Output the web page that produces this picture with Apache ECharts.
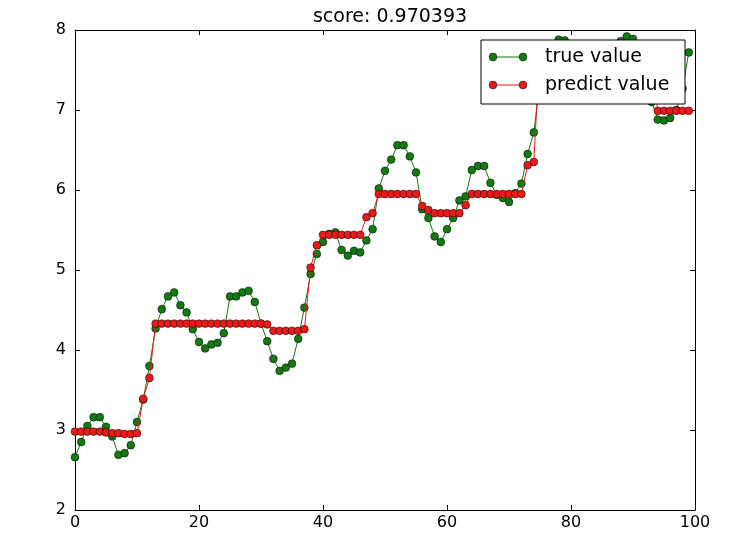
<!DOCTYPE html>
<html>
<head>
<meta charset="utf-8">
<script src="https://cdn.jsdelivr.net/npm/echarts@6/dist/echarts.min.js"></script>
<style>
html,body{margin:0;padding:0;background:#fff;}
#chart{width:740px;height:538px;}
</style>
</head>
<body>
<div id="chart"></div>
<script>
var titleText = 'score: 0.970393';
var seriesNames = ['true value', 'predict value'];
var xTicks = [0, 20, 40, 60, 80, 100];
var yTicks = [2, 3, 4, 5, 6, 7, 8];

var trueValue = [
  2.66, 2.85, 3.05, 3.16, 3.16, 3.04, 2.92, 2.69, 2.71, 2.81,
  3.10, 3.38, 3.80, 4.27, 4.51, 4.67, 4.72, 4.56, 4.47, 4.26,
  4.10, 4.02, 4.07, 4.09, 4.21, 4.67, 4.67, 4.72, 4.74, 4.60,
  4.33, 4.11, 3.89, 3.74, 3.78, 3.83, 4.14, 4.53, 4.95, 5.20,
  5.35, 5.45, 5.47, 5.25, 5.18, 5.24, 5.22, 5.37, 5.51, 6.02,
  6.24, 6.38, 6.56, 6.56, 6.42, 6.22, 5.76, 5.65, 5.42, 5.35,
  5.51, 5.65, 5.87, 5.92, 6.25, 6.30, 6.30, 6.09, 5.94, 5.90,
  5.85, 5.96, 6.08, 6.45, 6.72, 7.35, 7.65, 7.80, 7.88, 7.87,
  7.75, 7.60, 7.50, 7.45, 7.50, 7.60, 7.70, 7.80, 7.86, 7.92,
  7.89, 7.70, 7.40, 7.10, 6.88, 6.87, 6.90, 7.00, 7.27, 7.72
];

var predictValue = [
  2.98, 2.98, 2.98, 2.98, 2.98, 2.97, 2.96, 2.96, 2.95, 2.95,
  2.96, 3.39, 3.65, 4.33, 4.33, 4.33, 4.33, 4.33, 4.33, 4.33,
  4.33, 4.33, 4.33, 4.33, 4.33, 4.33, 4.33, 4.33, 4.33, 4.33,
  4.33, 4.32, 4.24, 4.24, 4.24, 4.24, 4.24, 4.26, 5.03, 5.31,
  5.44, 5.44, 5.44, 5.44, 5.44, 5.44, 5.44, 5.66, 5.71, 5.95,
  5.95, 5.95, 5.95, 5.95, 5.95, 5.95, 5.80, 5.75, 5.71, 5.71,
  5.71, 5.71, 5.71, 5.81, 5.95, 5.95, 5.95, 5.95, 5.95, 5.95,
  5.95, 5.95, 5.95, 6.31, 6.35, 7.82, 7.82, 7.82, 7.82, 7.82,
  7.82, 7.82, 7.82, 7.60, 7.60, 7.60, 7.60, 7.60, 7.60, 7.60,
  7.60, 7.60, 7.60, 7.60, 6.99, 6.99, 6.99, 6.99, 6.99, 6.99
];

var GREEN = '#117a11';
var RED = '#e81b1b';
var FONT = 'DejaVu Sans';

function pairs(arr) { return arr.map(function (v, i) { return [i, v]; }); }

var chart = echarts.init(document.getElementById('chart'), null, {renderer: 'canvas'});

function axisCommon(extra) {
  var base = {
    type: 'value',
    axisLine: {show: true, onZero: false, lineStyle: {color: '#000', width: 1}},
    axisTick: {show: true, inside: true, length: 5, lineStyle: {color: '#000', width: 1}},
    splitLine: {show: false}
  };
  for (var k in extra) base[k] = extra[k];
  return base;
}

var legendY = [57, 85];
var legendColors = [GREEN, RED];
var legendGraphic = [{
  type: 'rect', shape: {x: 481, y: 40, width: 204, height: 64},
  style: {fill: '#fff', stroke: '#000', lineWidth: 1}, z: 100
}];
seriesNames.forEach(function (name, k) {
  legendGraphic.push({type: 'line', shape: {x1: 493, y1: legendY[k], x2: 523, y2: legendY[k]},
    style: {stroke: legendColors[k], lineWidth: 1}, z: 101});
  [493, 523].forEach(function (cx) {
    legendGraphic.push({type: 'circle', shape: {cx: cx, cy: legendY[k], r: 3.9},
      style: {fill: legendColors[k], stroke: '#000', lineWidth: 0.5}, z: 102});
  });
  legendGraphic.push({type: 'text', x: 545, y: legendY[k],
    style: {text: name, fill: '#000', font: '19px "DejaVu Sans"', textVerticalAlign: 'middle', textAlign: 'left'}, z: 102});
});

var option = {
  animation: false,
  backgroundColor: '#fff',
  title: {
    text: titleText, left: 385, top: 3, textAlign: 'center',
    textStyle: {fontFamily: FONT, fontSize: 19, fontWeight: 'normal', color: '#000'}
  },
  grid: {left: 75, right: 45, top: 30, bottom: 28, containLabel: false},
  xAxis: [
    axisCommon({position: 'bottom', min: xTicks[0], max: xTicks[xTicks.length - 1], interval: xTicks[1] - xTicks[0],
      axisLabel: {show: true, color: '#000', fontFamily: FONT, fontSize: 16, margin: 5}}),
    axisCommon({position: 'top', min: xTicks[0], max: xTicks[xTicks.length - 1], interval: xTicks[1] - xTicks[0],
      axisLabel: {show: false}})
  ],
  yAxis: [
    axisCommon({position: 'left', min: yTicks[0], max: yTicks[yTicks.length - 1], interval: yTicks[1] - yTicks[0],
      axisLabel: {show: true, color: '#000', fontFamily: FONT, fontSize: 16, margin: 9}}),
    axisCommon({position: 'right', min: yTicks[0], max: yTicks[yTicks.length - 1], interval: yTicks[1] - yTicks[0],
      axisLabel: {show: false}})
  ],
  series: [
    {
      name: seriesNames[0], type: 'line', data: pairs(trueValue),
      xAxisIndex: 0, yAxisIndex: 0,
      symbol: 'circle', symbolSize: 7.8, showAllSymbol: true,
      lineStyle: {color: GREEN, width: 1},
      itemStyle: {color: GREEN, borderColor: '#000', borderWidth: 0.5},
      z: 2
    },
    {
      name: seriesNames[1], type: 'line', data: pairs(predictValue),
      xAxisIndex: 0, yAxisIndex: 0,
      symbol: 'circle', symbolSize: 7.8, showAllSymbol: true,
      lineStyle: {color: RED, width: 1},
      itemStyle: {color: RED, borderColor: '#000', borderWidth: 0.5},
      z: 3
    }
  ],
  graphic: legendGraphic
};
chart.setOption(option);
</script>
</body>
</html>
